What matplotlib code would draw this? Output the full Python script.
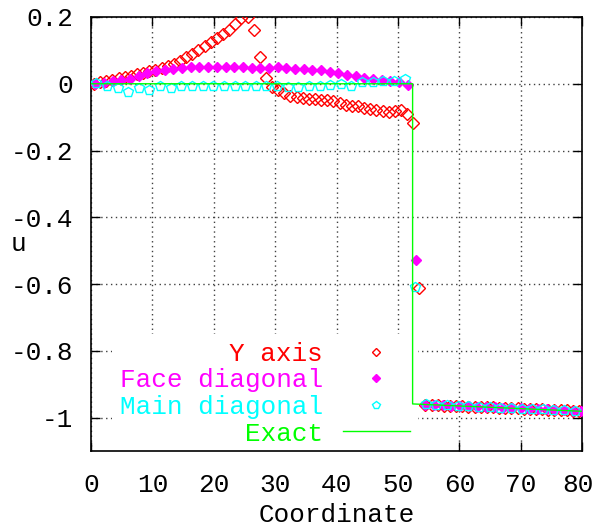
import numpy as np
import matplotlib
matplotlib.use("Agg")
import matplotlib.pyplot as plt
import matplotlib.transforms as mtransforms
from matplotlib.lines import Line2D

# ---------------- data ----------------
# grid spacings of the three sampled lines (cell centred)
dx_y = 1.0
dx_face = np.sqrt(2.0)
dx_main = np.sqrt(3.0)

u_yaxis = [0.000, 0.004, 0.008, 0.012, 0.016, 0.020, 0.024, 0.028, 0.032, 0.037,
           0.042, 0.047, 0.053, 0.060, 0.068, 0.079, 0.090, 0.102, 0.114, 0.125,
           0.137, 0.150, 0.162, 0.180, 0.197, 0.200, 0.160, 0.080, 0.017, -0.010,
           -0.018, -0.028, -0.036, -0.040, -0.043, -0.046, -0.046, -0.048, -0.050, -0.053,
           -0.058, -0.063, -0.066, -0.068, -0.072, -0.075, -0.079, -0.082, -0.085, -0.082,
           -0.079, -0.090, -0.117, -0.612, -0.961, -0.962, -0.962, -0.964, -0.964, -0.965,
           -0.966, -0.967, -0.967, -0.968, -0.969, -0.969, -0.970, -0.971, -0.972, -0.972,
           -0.973, -0.974, -0.975, -0.975, -0.976, -0.977, -0.977, -0.978, -0.979, -0.980]

u_face = [0.000, 0.003, 0.007, 0.010, 0.013, 0.022, 0.031, 0.037, 0.042, 0.045,
          0.048, 0.050, 0.051, 0.051, 0.051, 0.051, 0.050, 0.049, 0.047, 0.048,
          0.048, 0.049, 0.047, 0.045, 0.044, 0.042, 0.040, 0.036, 0.031, 0.027,
          0.023, 0.018, 0.015, 0.011, 0.009, 0.006, -0.003, -0.527, -0.961, -0.962,
          -0.963, -0.964, -0.965, -0.966, -0.967, -0.968, -0.969, -0.970, -0.971, -0.972,
          -0.973, -0.974, -0.975, -0.977, -0.978, -0.979, -0.981]

u_main = [0.002, -0.006, -0.013, -0.026, -0.013, -0.020, -0.008, -0.012, -0.006, -0.008,
          -0.006, -0.007, -0.007, -0.007, -0.007, -0.008, -0.008, -0.006, -0.010, -0.010,
          -0.008, -0.006, -0.004, 0.000, -0.006, 0.004, 0.004, 0.007, 0.007, 0.014,
          -0.610, -0.960, -0.962, -0.963, -0.965, -0.966, -0.967, -0.969, -0.970, -0.971,
          -0.973, -0.974, -0.975, -0.976, -0.978, -0.979]

x_exact = [0.0, 52.4, 52.4, 80.0]
u_exact = [0.0, 0.0, -0.959, -0.981]

series_labels = ["Y axis", "Face diagonal", "Main diagonal", "Exact"]
xticks = [0, 10, 20, 30, 40, 50, 60, 70, 80]
yticks = [0.2, 0.0, -0.2, -0.4, -0.6, -0.8, -1.0]
ytick_labels = ["0.2", "0", "-0.2", "-0.4", "-0.6", "-0.8", "-1"]

x_yaxis = (np.arange(len(u_yaxis)) + 0.5) * dx_y
x_face = (np.arange(len(u_face)) + 0.5) * dx_face
x_main = (np.arange(len(u_main)) + 0.5) * dx_main

# ---------------- style ----------------
plt.rcParams['font.family'] = ['Liberation Mono', 'DejaVu Sans Mono']
FS = 18.7
RED, MAG, CYA, GRN = "#ff0000", "#ff00ff", "#00ffff", "#00ff00"

fig = plt.figure(figsize=(5.96, 5.28), dpi=100)
ax = fig.add_axes([91/596, 1-451/528, (582-91)/596, (451-17)/528])

ax.plot(x_yaxis, u_yaxis, linestyle="none", marker="D", ms=6, mfc="none",
        mec=RED, mew=1.0, zorder=3)
ax.plot(x_face, u_face, linestyle="none", marker="D", ms=5.6, mfc=MAG,
        mec=MAG, mew=1.0, zorder=4)
ax.plot(x_main, u_main, linestyle="none", marker="p", ms=7.5, mfc="none",
        mec=CYA, mew=1.0, zorder=5)
ax.plot(x_exact, u_exact, color=GRN, lw=1.0, zorder=6)

ax.set_xlim(0, 80)
ax.set_ylim(-1.1, 0.2)
ax.set_xticks(xticks)
ax.set_xticklabels([str(t) for t in xticks])
ax.set_yticks(yticks)
ax.set_yticklabels(ytick_labels)
ax.tick_params(axis="both", direction="in", length=6.5, width=1.0,
               top=True, right=True, labelsize=FS)
ax.tick_params(axis="x", pad=15.5)
ax.tick_params(axis="y", pad=13)
ax.grid(True, color="0.25", linestyle=(0, (1, 2.5)), linewidth=1.0, zorder=0)
for s in ax.spines.values():
    s.set_linewidth(1.2)

# keep the last x tick label fully inside the figure
last = ax.get_xticklabels()[-1]
last.set_transform(last.get_transform() +
                   mtransforms.ScaledTranslation(-4/100, 0, fig.dpi_scale_trans))

ax.set_xlabel("Coordinate", fontsize=FS, labelpad=5)
ax.set_ylabel("u", fontsize=FS, rotation=0, labelpad=0)
ax.yaxis.set_label_coords(-0.148, 0.45)

handles = [
    Line2D([], [], linestyle="none", marker="D", ms=4, mfc="none", mec=RED, mew=1.0),
    Line2D([], [], linestyle="none", marker="D", ms=4, mfc=MAG, mec=MAG, mew=1.0),
    Line2D([], [], linestyle="none", marker="p", ms=6, mfc="none", mec=CYA, mew=1.0),
    Line2D([], [], color=GRN, lw=1.0),
]
leg = ax.legend(handles, series_labels, loc="upper right",
                bbox_to_anchor=((418-91)/491, (451-334)/434),
                markerfirst=False, fontsize=FS, frameon=True, fancybox=False,
                facecolor="white", edgecolor="none", framealpha=1.0,
                handlelength=2.6, handletextpad=0.75, labelspacing=0.1,
                borderpad=0.3, borderaxespad=0.0)
for txt, col in zip(leg.get_texts(), [RED, MAG, CYA, GRN]):
    txt.set_color(col)
    txt.set_ha("right")
leg.set_zorder(2)

fig.savefig("out.png", dpi=100)
